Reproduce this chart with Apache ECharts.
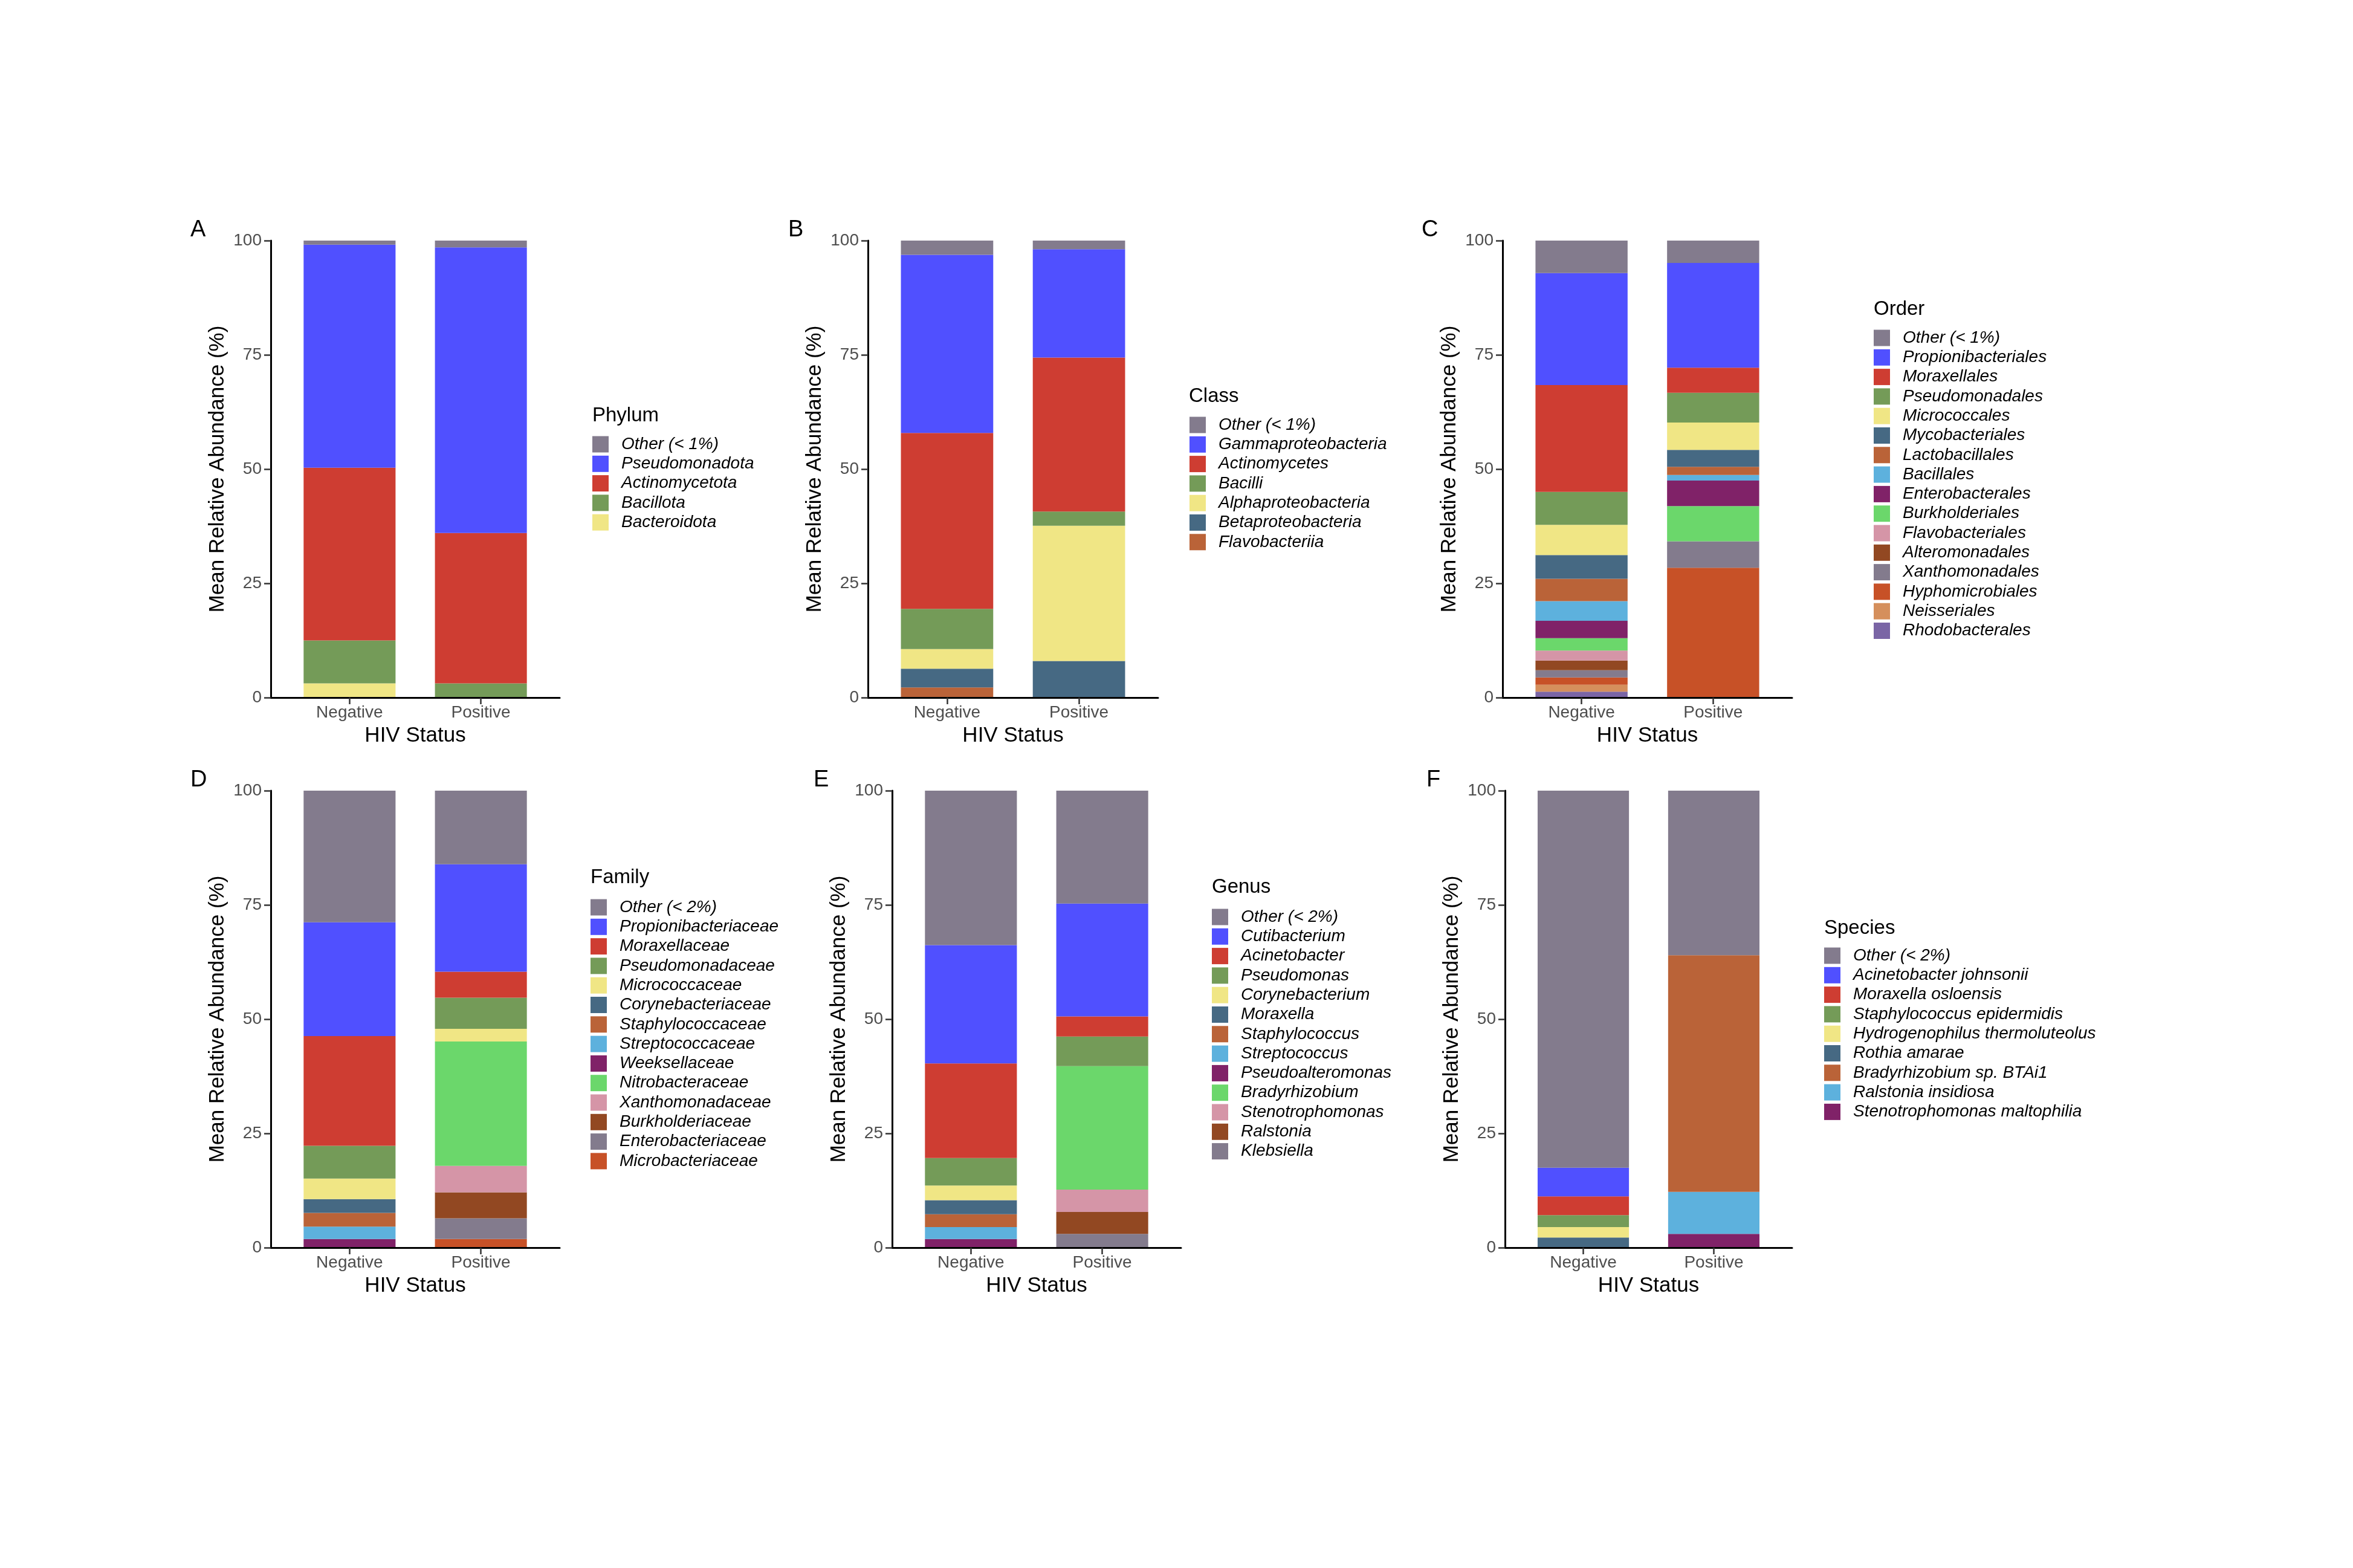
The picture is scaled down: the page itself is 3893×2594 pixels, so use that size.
<!DOCTYPE html>
<html><head><meta charset="utf-8">
<script src="https://cdn.jsdelivr.net/npm/echarts@6/dist/echarts.min.js"></script>
<style>html,body{margin:0;padding:0;background:#fff}#chart{width:3893px;height:2594px}</style>
</head><body><div id="chart"></div>
<script>
// ---------------- DATA ----------------
const groups = ['Negative', 'Positive'];
const yTicks = [0, 25, 50, 75, 100];

const phylumNames = ['Other (< 1%)', 'Pseudomonadota', 'Actinomycetota', 'Bacillota', 'Bacteroidota'];
const phylumNegative = [0.9, 48.8, 37.8, 9.4, 3.1];
const phylumPositive = [1.5, 62.5, 32.9, 3.1, 0];

const classNames = ['Other (< 1%)', 'Gammaproteobacteria', 'Actinomycetes', 'Bacilli', 'Alphaproteobacteria', 'Betaproteobacteria', 'Flavobacteriia'];
const classNegative = [3.1, 39.0, 38.5, 8.8, 4.3, 4.1, 2.2];
const classPositive = [1.9, 23.7, 33.7, 3.1, 29.6, 8.0, 0];

const orderNames = ['Other (< 1%)', 'Propionibacteriales', 'Moraxellales', 'Pseudomonadales', 'Micrococcales', 'Mycobacteriales', 'Lactobacillales', 'Bacillales', 'Enterobacterales', 'Burkholderiales', 'Flavobacteriales', 'Alteromonadales', 'Xanthomonadales', 'Hyphomicrobiales', 'Neisseriales', 'Rhodobacterales'];
const orderNegative = [7.1, 24.5, 23.4, 7.2, 6.6, 5.2, 4.9, 4.3, 3.8, 2.7, 2.2, 2.1, 1.6, 1.6, 1.5, 1.3];
const orderPositive = [4.9, 22.9, 5.5, 6.5, 6.0, 3.7, 1.8, 1.2, 5.6, 7.7, 0, 0, 5.8, 28.4, 0, 0];

const familyNames = ['Other (< 2%)', 'Propionibacteriaceae', 'Moraxellaceae', 'Pseudomonadaceae', 'Micrococcaceae', 'Corynebacteriaceae', 'Staphylococcaceae', 'Streptococcaceae', 'Weeksellaceae', 'Nitrobacteraceae', 'Xanthomonadaceae', 'Burkholderiaceae', 'Enterobacteriaceae', 'Microbacteriaceae'];
const familyNegative = [28.8, 24.9, 24.0, 7.2, 4.5, 3.0, 3.0, 2.7, 1.9, 0, 0, 0, 0, 0];
const familyPositive = [16.1, 23.5, 5.7, 6.8, 2.8, 0, 0, 0, 0, 27.2, 5.8, 5.7, 4.5, 1.9];

const genusNames = ['Other (< 2%)', 'Cutibacterium', 'Acinetobacter', 'Pseudomonas', 'Corynebacterium', 'Moraxella', 'Staphylococcus', 'Streptococcus', 'Pseudoalteromonas', 'Bradyrhizobium', 'Stenotrophomonas', 'Ralstonia', 'Klebsiella'];
const genusNegative = [33.8, 25.9, 20.7, 6.0, 3.2, 3.1, 2.8, 2.6, 1.9, 0, 0, 0, 0];
const genusPositive = [24.7, 24.7, 4.4, 6.5, 0, 0, 0, 0, 0, 27.0, 4.9, 4.8, 3.0];

const speciesNames = ['Other (< 2%)', 'Acinetobacter johnsonii', 'Moraxella osloensis', 'Staphylococcus epidermidis', 'Hydrogenophilus thermoluteolus', 'Rothia amarae', 'Bradyrhizobium sp. BTAi1', 'Ralstonia insidiosa', 'Stenotrophomonas maltophilia'];
const speciesNegative = [82.5, 6.3, 4.1, 2.6, 2.3, 2.2, 0, 0, 0];
const speciesPositive = [36.0, 0, 0, 0, 0, 0, 51.8, 9.2, 3.0];

// ---------------- STYLE / LAYOUT ----------------
const FONT = "'Liberation Sans', Arial, Helvetica, sans-serif";
const palette = ['#5050FF', '#CE3D32', '#749B58', '#F0E685', '#466983', '#BA6338', '#5DB1DD', '#802268', '#6BD76B', '#D595A7', '#924822', '#837B8D', '#C75127', '#D58F5C', '#7A65A5'];
const otherColor = '#837B8D';

const panels = [
  { letter: 'A', rank: 'Phylum', names: phylumNames, neg: phylumNegative, pos: phylumPositive },
  { letter: 'B', rank: 'Class', names: classNames, neg: classNegative, pos: classPositive },
  { letter: 'C', rank: 'Order', names: orderNames, neg: orderNegative, pos: orderPositive },
  { letter: 'D', rank: 'Family', names: familyNames, neg: familyNegative, pos: familyPositive },
  { letter: 'E', rank: 'Genus', names: genusNames, neg: genusNegative, pos: genusPositive },
  { letter: 'F', rank: 'Species', names: speciesNames, neg: speciesNegative, pos: speciesPositive }
];

const layout = [
  { left: 448, right: 926, top: 398, bottom: 1154, letterX: 315, letterY: 362, titleX: 980, titleY: 671, legX: 980, legY: 721 },
  { left: 1436, right: 1916, top: 398, bottom: 1154, letterX: 1304, letterY: 362, titleX: 1967, titleY: 639, legX: 1968, legY: 689 },
  { left: 2486, right: 2965, top: 398, bottom: 1154, letterX: 2352, letterY: 362, titleX: 3100, titleY: 495, legX: 3100, legY: 545 },
  { left: 448, right: 926, top: 1308, bottom: 2064, letterX: 315, letterY: 1272, titleX: 977, titleY: 1435, legX: 977, legY: 1487 },
  { left: 1476, right: 1954, top: 1308, bottom: 2064, letterX: 1346, letterY: 1272, titleX: 2005, titleY: 1451, legX: 2005, legY: 1503 },
  { left: 2490, right: 2965, top: 1308, bottom: 2064, letterX: 2360, letterY: 1272, titleX: 3018, titleY: 1519, legX: 3018, legY: 1567 }
];

const yMin = yTicks[0], yMax = yTicks[yTicks.length - 1], yInt = yTicks[1] - yTicks[0];

const option = {
  animation: false,
  backgroundColor: '#ffffff',
  textStyle: { fontFamily: FONT },
  grid: [], xAxis: [], yAxis: [], series: [], legend: [], title: []
};

panels.forEach((p, i) => {
  const L = layout[i];
  const w = L.right - L.left, h = L.bottom - L.top;
  const u = w / 2.2;
  const gF = 2 * i, gB = 2 * i + 1;
  option.grid.push({ left: L.left, top: L.top, width: w, height: h });
  option.grid.push({ left: L.left + 0.1 * u, top: L.top, width: 2 * u, height: h });

  // frame axes (lines, y ticks, titles)
  option.xAxis.push({
    gridIndex: gF, type: 'category', data: groups, z: 5,
    axisLine: { show: true, lineStyle: { color: '#000', width: 3 } },
    axisTick: { show: false }, axisLabel: { show: false }, splitLine: { show: false },
    name: 'HIV Status', nameLocation: 'middle', nameGap: 46,
    nameTextStyle: { fontSize: 35, color: '#000', fontFamily: FONT }
  });
  option.yAxis.push({
    gridIndex: gF, type: 'value', min: yMin, max: yMax, interval: yInt, z: 5,
    axisLine: { show: true, onZero: false, lineStyle: { color: '#000', width: 3 } },
    axisTick: { show: true, length: 11, lineStyle: { color: '#333', width: 2.5 } },
    axisLabel: { fontSize: 28, color: '#4D4D4D', margin: 15, fontFamily: FONT },
    splitLine: { show: false },
    name: 'Mean Relative Abundance (%)', nameLocation: 'middle', nameGap: 70, nameRotate: 90,
    nameTextStyle: { fontSize: 35, color: '#000', fontFamily: FONT }
  });
  // bar axes (category ticks and labels)
  option.xAxis.push({
    gridIndex: gB, type: 'category', data: groups, z: 5,
    axisLine: { show: false },
    axisTick: { show: true, alignWithLabel: true, length: 11, lineStyle: { color: '#333', width: 2.5 } },
    axisLabel: { fontSize: 28, color: '#4D4D4D', margin: 11, fontFamily: FONT },
    splitLine: { show: false }
  });
  option.yAxis.push({ gridIndex: gB, type: 'value', min: yMin, max: yMax, show: false });

  const colors = [otherColor].concat(palette.slice(0, p.names.length - 1));
  for (let j = p.names.length - 1; j >= 0; j--) {
    option.series.push({
      type: 'bar', name: p.names[j], xAxisIndex: gB, yAxisIndex: gB, stack: 'panel' + i,
      barWidth: '70%', data: [p.neg[j], p.pos[j]],
      itemStyle: { color: colors[j] }, emphasis: { disabled: true }, silent: true
    });
  }

  option.legend.push({
    data: p.names, orient: 'vertical', left: L.legX, top: L.legY, padding: 0,
    itemWidth: 27, itemHeight: 27, itemGap: 4.3, icon: 'rect', selectedMode: false,
    textStyle: { fontSize: 28, fontStyle: 'italic', color: '#000', fontFamily: FONT, padding: [0, 0, 0, 16], lineHeight: 27 }
  });
  option.title.push({ text: p.letter, left: L.letterX, top: L.letterY, padding: 0,
    textStyle: { fontSize: 38, fontWeight: 'normal', color: '#000', fontFamily: FONT } });
  option.title.push({ text: p.rank, left: L.titleX, top: L.titleY, padding: 0,
    textStyle: { fontSize: 33, fontWeight: 'normal', color: '#000', fontFamily: FONT } });
});

const chart = echarts.init(document.getElementById('chart'), null, { renderer: 'canvas' });
chart.setOption(option);
</script>
</body></html>
